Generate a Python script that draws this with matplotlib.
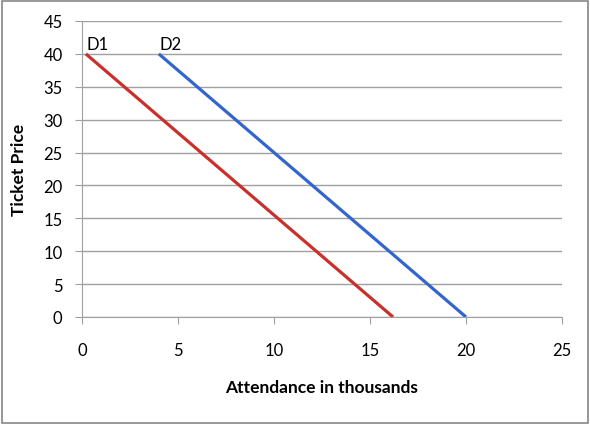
import matplotlib
matplotlib.use("Agg")
import matplotlib.pyplot as plt
from matplotlib.patches import Rectangle

plt.rcParams['font.family'] = ['Lato', 'DejaVu Sans']

d1_x = [0.2, 16.2]
d1_y = [40, 0]
d2_x = [4, 20]
d2_y = [40, 0]
labels = ["D1", "D2"]
x_ticks = [0, 5, 10, 15, 20, 25]
y_ticks = [0, 5, 10, 15, 20, 25, 30, 35, 40, 45]

W, H = 590, 427
fig = plt.figure(figsize=(W / 100, H / 100), dpi=100)
fig.patches.append(Rectangle((0.004, 0.008), 0.992, 0.987, transform=fig.transFigure,
                             fill=False, edgecolor='#868686', linewidth=1.2))
ax = fig.add_axes([82 / W, 1 - 318 / H, (562 - 82) / W, (318 - 22) / H])

ax.plot(d1_x, d1_y, color='#C8312B', linewidth=2.3, solid_capstyle='butt')
ax.plot(d2_x, d2_y, color='#3366CC', linewidth=2.3, solid_capstyle='butt')
ax.text(d1_x[0] + 0.05, d1_y[0] + 0.3, labels[0], fontsize=12, ha='left', va='bottom')
ax.text(d2_x[0] + 0.05, d2_y[0] + 0.3, labels[1], fontsize=12, ha='left', va='bottom')

ax.set_xlim(0, 25)
ax.set_ylim(0, 45)
ax.set_xticks(x_ticks)
ax.set_yticks(y_ticks)
ax.yaxis.grid(True, color='#A0A0A0', linewidth=1)
ax.set_axisbelow(True)
for s in ['top', 'right']:
    ax.spines[s].set_visible(False)
ax.spines['left'].set_color('#A0A0A0')
ax.spines['bottom'].set_color('#A0A0A0')
ax.tick_params(axis='both', colors='#A0A0A0', labelcolor='black', labelsize=12, length=5)
ax.tick_params(axis='y', pad=9)
ax.tick_params(axis='x', pad=13)
ax.set_xlabel("Attendance in thousands", fontsize=12.5, fontweight='bold')
ax.set_ylabel("Ticket Price", fontsize=12.5, fontweight='bold')
ax.xaxis.set_label_coords(0.5 * (82 + 562) / W, 1 - 388 / H, transform=fig.transFigure)
ax.yaxis.set_label_coords(19 / W, 1 - 170 / H, transform=fig.transFigure)
ax.xaxis.label.set_va('center')
ax.yaxis.label.set_va('center')

fig.savefig("out.png", dpi=100)
